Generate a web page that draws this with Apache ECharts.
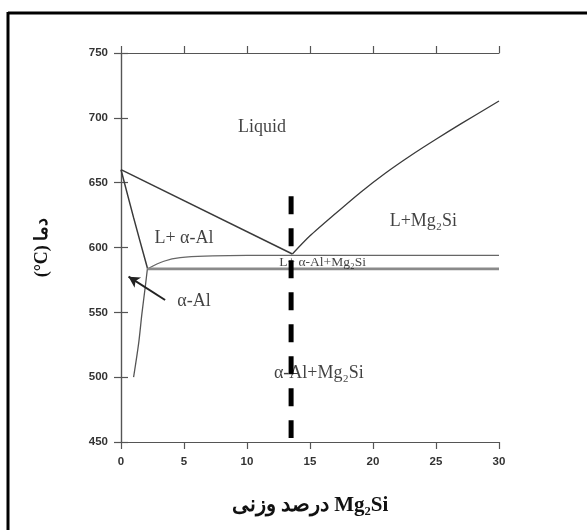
<!DOCTYPE html>
<html>
<head>
<meta charset="utf-8">
<script src="https://cdn.jsdelivr.net/npm/echarts@6/dist/echarts.min.js"></script>
<style>
  html, body { margin: 0; padding: 0; background: #fff; }
  #chart { width: 587px; height: 530px; }
</style>
</head>
<body>
<div id="chart"></div>
<script>
// داده‌های نمودار فازی Al-Mg2Si (درصد وزنی، دما)
var xTicks = [0, 5, 10, 15, 20, 25, 30];
var yTicks = [450, 500, 550, 600, 650, 700, 750];

var liquidusLeft = [[0, 660], [13.6, 595]];
var liquidusRight = [[13.6, 595], [15, 609], [17, 626], [19, 642.5], [21, 657.5], [23, 671], [25, 683.5], [27, 695.5], [30, 713]];
var solidus = [[0, 660], [1.0, 623], [2.1, 584]];
var solvus = [[2.1, 584], [1.93, 570], [1.66, 549], [1.4, 526], [1.0, 500]];
var upperLine = [[2.2, 584], [3.4, 589.4], [4.7, 592.2], [7.3, 593.5], [10, 593.9], [30, 594]];
var eutecticLine = [[2.1, 583.5], [30, 583.5]];
var alloyLine = [[13.5, 639.5], [13.5, 453]];
var arrowFrom = [3.5, 559.5];
var arrowTo = [0.6, 577.5];

// برچسب نواحی: x, y, متن, اندازه
var regionLabels = [
    [11.2, 693, 'Liquid', 18],
    [5.0, 607, 'L+ α-Al', 18],
    [24.0, 620, 'L+Mg₂Si', 18],
    [16.0, 588.6, 'L+ α-Al+Mg₂Si', 13.5],
    [5.8, 558.6, 'α-Al', 18],
    [15.7, 502.8, 'α-Al+Mg₂Si', 18]
];

var chart = echarts.init(document.getElementById('chart'));

var axisCol = '#555';
var lineCol = '#3a3a3a';

function curve(data, color, width, smooth) {
    return {
        type: 'line',
        data: data,
        symbol: 'none',
        smooth: smooth || false,
        silent: true,
        lineStyle: { color: color, width: width },
        z: 3
    };
}

var baseAxis = {
    type: 'value',
    axisLine: { show: true, lineStyle: { color: axisCol, width: 1.2 } },
    axisTick: { show: true, length: 7, lineStyle: { color: axisCol, width: 1.2 } },
    splitLine: { show: false }
};

var option = {
    animation: false,
    backgroundColor: '#fff',
    grid: { left: 121, right: 88, top: 53, bottom: 88, outerBoundsMode: 'none' },
    xAxis: [
        Object.assign({}, baseAxis, {
            min: 0, max: 30, interval: 5, position: 'bottom',
            axisLabel: { margin: 14, color: '#333', fontSize: 11.5, fontWeight: 'bold', fontFamily: 'Liberation Sans' },
            name: 'درصد وزنی Mg₂Si',
            nameLocation: 'middle',
            nameGap: 53,
            nameTextStyle: { fontSize: 21, fontWeight: 'bold', color: '#111', fontFamily: 'Liberation Serif' }
        }),
        Object.assign({}, baseAxis, {
            min: 0, max: 30, interval: 5, position: 'top',
            axisLabel: { show: false }
        })
    ],
    yAxis: [
        Object.assign({}, baseAxis, {
            min: 450, max: 750, interval: 50, position: 'left',
            axisLabel: { margin: 13, color: '#333', fontSize: 11.5, fontWeight: 'bold', fontFamily: 'Liberation Sans' },
            name: '(°C) دما',
            nameLocation: 'middle',
            nameGap: 70,
            nameTextStyle: { fontSize: 18, fontWeight: 'bold', color: '#111', fontFamily: 'Liberation Serif' }
        }),
        Object.assign({}, baseAxis, {
            min: 450, max: 750, interval: 50, position: 'right',
            axisLabel: { show: false }
        })
    ],
    series: [
        curve(liquidusLeft, lineCol, 1.5),
        curve(liquidusRight, lineCol, 1.3, 0.25),
        curve(solidus, lineCol, 1.5, 0.3),
        curve(solvus, '#555', 1.3, 0.3),
        curve(upperLine, '#666', 1.3, 0.4),
        curve(eutecticLine, '#8a8a8a', 2.6),
        {
            type: 'line',
            data: alloyLine,
            symbol: 'none',
            silent: true,
            z: 6,
            lineStyle: { color: '#000', width: 5, type: [18, 14] }
        },
        {
            type: 'scatter',
            silent: true,
            symbolSize: 0,
            z: 4,
            data: regionLabels.map(function (r) { return { value: [r[0], r[1]], name: r[2], label: { fontSize: r[3] } }; }),
            label: {
                show: true,
                position: 'inside',
                color: '#111',
                fontFamily: 'Liberation Serif',
                formatter: function (p) { return p.name; }
            },
            markLine: {
                silent: true,
                symbol: ['none', 'arrow'],
                symbolSize: [9, 11],
                label: { show: false },
                lineStyle: { color: '#222', width: 2, type: 'solid' },
                data: [[{ coord: arrowFrom }, { coord: arrowTo }]]
            }
        }
    ],
    graphic: [
        { type: 'line', shape: { x1: 8, y1: 13, x2: 587, y2: 13 }, style: { stroke: '#000', lineWidth: 3 } },
        { type: 'line', shape: { x1: 8, y1: 12, x2: 8, y2: 530 }, style: { stroke: '#000', lineWidth: 3 } }
    ]
};

chart.setOption(option);
</script>
</body>
</html>
